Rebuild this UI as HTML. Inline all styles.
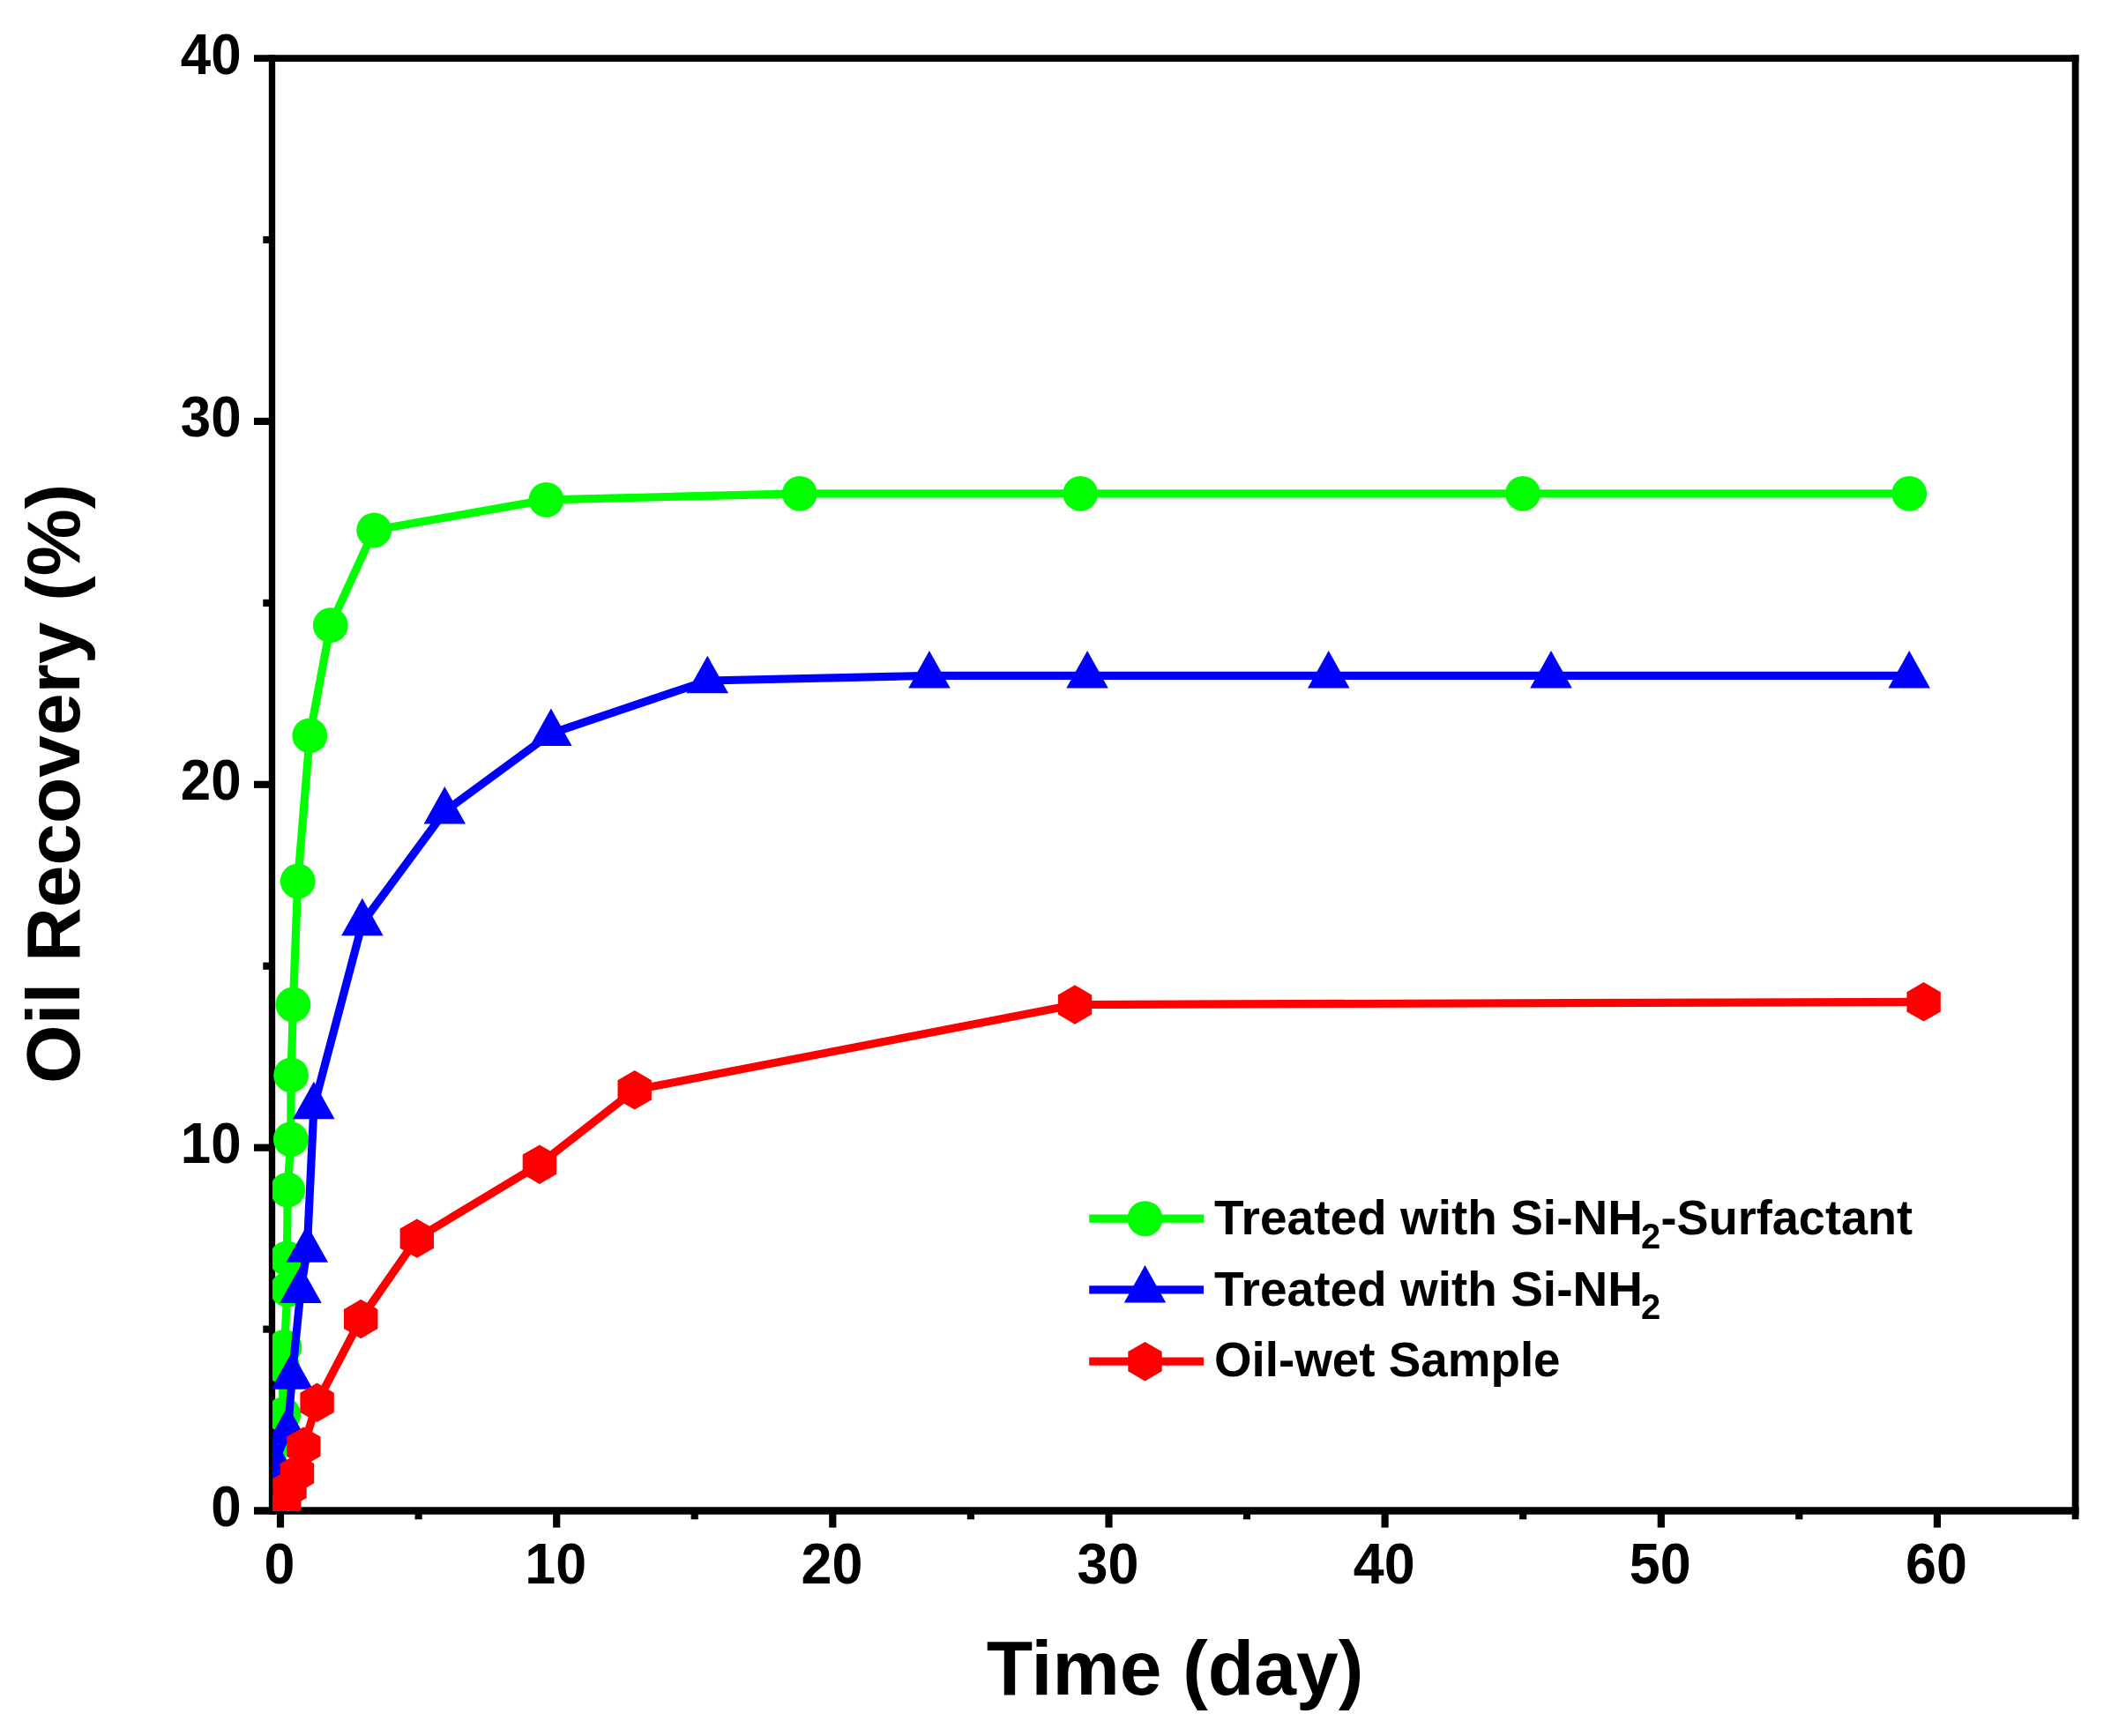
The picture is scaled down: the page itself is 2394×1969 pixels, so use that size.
<!DOCTYPE html><html><head><meta charset="utf-8"><title>Oil Recovery</title>
<style>html,body{margin:0;padding:0;background:#fff}svg{display:block;filter:blur(0.7px)}text{font-family:"Liberation Sans",Arial,Helvetica,sans-serif;font-weight:bold;fill:#000}</style></head><body>
<svg width="2394" height="1969" viewBox="0 0 2394 1969">
<rect width="2394" height="1969" fill="#fff"/>
<g stroke="#000" fill="none" stroke-linecap="butt">
<line x1="308.5" y1="62.199999999999996" x2="308.5" y2="1717.7" stroke-width="7.3"/>
<line x1="2353.6" y1="62.199999999999996" x2="2353.6" y2="1723.3" stroke-width="7.8"/>
<line x1="288" y1="66.1" x2="2357.5" y2="66.1" stroke-width="7.9"/>
<line x1="288" y1="1713.5" x2="2357.5" y2="1713.5" stroke-width="8.6"/>
</g>
<g stroke="#000" stroke-width="8.2" fill="none" stroke-linecap="butt">
<line x1="298.3" y1="1507.6" x2="308.5" y2="1507.6"/>
<line x1="288" y1="1301.7" x2="308.5" y2="1301.7"/>
<line x1="298.3" y1="1095.7" x2="308.5" y2="1095.7"/>
<line x1="288" y1="889.8" x2="308.5" y2="889.8"/>
<line x1="298.3" y1="683.9" x2="308.5" y2="683.9"/>
<line x1="288" y1="477.9" x2="308.5" y2="477.9"/>
<line x1="298.3" y1="272.0" x2="308.5" y2="272.0"/>
<line x1="318.0" y1="1713.5" x2="318.0" y2="1732.6"/>
<line x1="474.6" y1="1713.5" x2="474.6" y2="1723.3"/>
<line x1="631.2" y1="1713.5" x2="631.2" y2="1732.6"/>
<line x1="787.7" y1="1713.5" x2="787.7" y2="1723.3"/>
<line x1="944.3" y1="1713.5" x2="944.3" y2="1732.6"/>
<line x1="1100.9" y1="1713.5" x2="1100.9" y2="1723.3"/>
<line x1="1257.5" y1="1713.5" x2="1257.5" y2="1732.6"/>
<line x1="1414.0" y1="1713.5" x2="1414.0" y2="1723.3"/>
<line x1="1570.6" y1="1713.5" x2="1570.6" y2="1732.6"/>
<line x1="1727.2" y1="1713.5" x2="1727.2" y2="1723.3"/>
<line x1="1883.8" y1="1713.5" x2="1883.8" y2="1732.6"/>
<line x1="2040.3" y1="1713.5" x2="2040.3" y2="1723.3"/>
<line x1="2196.9" y1="1713.5" x2="2196.9" y2="1732.6"/>
</g>
<text transform="translate(273.6,1730.9) scale(0.955,1)" font-size="64.8" text-anchor="end">0</text>
<text transform="translate(273.6,1319.1) scale(0.955,1)" font-size="64.8" text-anchor="end">10</text>
<text transform="translate(273.6,907.2) scale(0.955,1)" font-size="64.8" text-anchor="end">20</text>
<text transform="translate(273.6,495.3) scale(0.955,1)" font-size="64.8" text-anchor="end">30</text>
<text transform="translate(273.6,83.5) scale(0.955,1)" font-size="64.8" text-anchor="end">40</text>
<text transform="translate(317.1,1796) scale(0.97,1)" font-size="64.8" text-anchor="middle">0</text>
<text transform="translate(630.3,1796) scale(0.97,1)" font-size="64.8" text-anchor="middle">10</text>
<text transform="translate(943.4,1796) scale(0.97,1)" font-size="64.8" text-anchor="middle">20</text>
<text transform="translate(1256.5,1796) scale(0.97,1)" font-size="64.8" text-anchor="middle">30</text>
<text transform="translate(1569.7,1796) scale(0.97,1)" font-size="64.8" text-anchor="middle">40</text>
<text transform="translate(1882.8,1796) scale(0.97,1)" font-size="64.8" text-anchor="middle">50</text>
<text transform="translate(2196.0,1796) scale(0.97,1)" font-size="64.8" text-anchor="middle">60</text>
<text transform="translate(1332.5,1922) scale(0.981,1)" font-size="87.5" text-anchor="middle">Time (day)</text>
<text transform="translate(89.8,888.75) rotate(-90)" font-size="85.6" text-anchor="middle">Oil Recovery (%)</text>
<defs><clipPath id="c"><rect x="309.0" y="66.1" width="2044.6" height="1647.6000000000001"/></clipPath></defs>
<g clip-path="url(#c)">
<polyline fill="none" stroke="#00ff00" stroke-width="9.2" stroke-linejoin="round" stroke-linecap="round" points="318.5,1713.5 321.3,1604.3 320.0,1549.0 322.5,1528.0 326.0,1462.6 325.5,1427.4 326.2,1349.6 329.8,1292.1 330.1,1219.3 332.4,1139.5 337.7,999.5 351.3,834.3 374.8,709.2 424.2,601.3 619.5,566.9 906.9,559.8 1225.2,559.8 1727.0,559.8 2165.2,559.8"/>
<circle cx="318.5" cy="1713.5" r="19.9" fill="#00ff00"/>
<circle cx="321.3" cy="1604.3" r="19.9" fill="#00ff00"/>
<circle cx="320.0" cy="1549.0" r="19.9" fill="#00ff00"/>
<circle cx="322.5" cy="1528.0" r="19.9" fill="#00ff00"/>
<circle cx="326.0" cy="1462.6" r="19.9" fill="#00ff00"/>
<circle cx="325.5" cy="1427.4" r="19.9" fill="#00ff00"/>
<circle cx="326.2" cy="1349.6" r="19.9" fill="#00ff00"/>
<circle cx="329.8" cy="1292.1" r="19.9" fill="#00ff00"/>
<circle cx="330.1" cy="1219.3" r="19.9" fill="#00ff00"/>
<circle cx="332.4" cy="1139.5" r="19.9" fill="#00ff00"/>
<circle cx="337.7" cy="999.5" r="19.9" fill="#00ff00"/>
<circle cx="351.3" cy="834.3" r="19.9" fill="#00ff00"/>
<circle cx="374.8" cy="709.2" r="19.9" fill="#00ff00"/>
<circle cx="424.2" cy="601.3" r="19.9" fill="#00ff00"/>
<circle cx="619.5" cy="566.9" r="19.9" fill="#00ff00"/>
<circle cx="906.9" cy="559.8" r="19.9" fill="#00ff00"/>
<circle cx="1225.2" cy="559.8" r="19.9" fill="#00ff00"/>
<circle cx="1727.0" cy="559.8" r="19.9" fill="#00ff00"/>
<circle cx="2165.2" cy="559.8" r="19.9" fill="#00ff00"/>
<polyline fill="none" stroke="#0000ff" stroke-width="9.2" stroke-linejoin="round" stroke-linecap="round" points="318.2,1713.5 311.0,1659.0 326.5,1623.0 331.2,1561.6 341.0,1463.8 348.3,1417.5 355.9,1255.1 410.9,1047.1 504.3,920.4 624.9,831.9 802.3,772.0 1053.9,766.3 1233.1,766.3 1506.7,766.3 1759.0,766.3 2165.2,766.3"/>
<polygon fill="#0000ff" points="318.2,1685.2 294.4,1727.7 341.9,1727.7"/>
<polygon fill="#0000ff" points="311.0,1630.7 287.2,1673.2 334.8,1673.2"/>
<polygon fill="#0000ff" points="326.5,1594.7 302.8,1637.2 350.2,1637.2"/>
<polygon fill="#0000ff" points="331.2,1533.3 307.4,1575.8 354.9,1575.8"/>
<polygon fill="#0000ff" points="341.0,1435.5 317.2,1478.0 364.8,1478.0"/>
<polygon fill="#0000ff" points="348.3,1389.2 324.6,1431.7 372.1,1431.7"/>
<polygon fill="#0000ff" points="355.9,1226.8 332.1,1269.3 379.6,1269.3"/>
<polygon fill="#0000ff" points="410.9,1018.8 387.1,1061.3 434.6,1061.3"/>
<polygon fill="#0000ff" points="504.3,892.1 480.6,934.6 528.0,934.6"/>
<polygon fill="#0000ff" points="624.9,803.6 601.1,846.1 648.6,846.1"/>
<polygon fill="#0000ff" points="802.3,743.7 778.5,786.2 826.0,786.2"/>
<polygon fill="#0000ff" points="1053.9,738.0 1030.2,780.5 1077.7,780.5"/>
<polygon fill="#0000ff" points="1233.1,738.0 1209.3,780.5 1256.8,780.5"/>
<polygon fill="#0000ff" points="1506.7,738.0 1483.0,780.5 1530.5,780.5"/>
<polygon fill="#0000ff" points="1759.0,738.0 1735.2,780.5 1782.8,780.5"/>
<polygon fill="#0000ff" points="2165.2,738.0 2141.4,780.5 2188.9,780.5"/>
<polyline fill="none" stroke="#ff0000" stroke-width="9.2" stroke-linejoin="round" stroke-linecap="round" points="318.2,1713.5 322.3,1713.5 328.5,1688.0 337.0,1671.2 344.3,1640.6 359.6,1590.8 409.2,1496.0 472.8,1404.6 611.9,1320.7 719.7,1236.3 1219.0,1139.5 2181.6,1136.3"/>
<polygon fill="#ff0000" points="318.2,1691.3 299.0,1702.4 299.0,1724.6 318.2,1735.7 337.4,1724.6 337.4,1702.4"/>
<polygon fill="#ff0000" points="322.3,1691.3 303.1,1702.4 303.1,1724.6 322.3,1735.7 341.5,1724.6 341.5,1702.4"/>
<polygon fill="#ff0000" points="328.5,1665.8 309.3,1676.9 309.3,1699.1 328.5,1710.2 347.7,1699.1 347.7,1676.9"/>
<polygon fill="#ff0000" points="337.0,1649.0 317.8,1660.1 317.8,1682.3 337.0,1693.4 356.2,1682.3 356.2,1660.1"/>
<polygon fill="#ff0000" points="344.3,1618.4 325.1,1629.5 325.1,1651.7 344.3,1662.8 363.5,1651.7 363.5,1629.5"/>
<polygon fill="#ff0000" points="359.6,1568.6 340.4,1579.7 340.4,1601.9 359.6,1613.0 378.8,1601.9 378.8,1579.7"/>
<polygon fill="#ff0000" points="409.2,1473.8 390.0,1484.9 390.0,1507.1 409.2,1518.2 428.4,1507.1 428.4,1484.9"/>
<polygon fill="#ff0000" points="472.8,1382.4 453.6,1393.5 453.6,1415.7 472.8,1426.8 492.0,1415.7 492.0,1393.5"/>
<polygon fill="#ff0000" points="611.9,1298.5 592.7,1309.6 592.7,1331.8 611.9,1342.9 631.1,1331.8 631.1,1309.6"/>
<polygon fill="#ff0000" points="719.7,1214.1 700.5,1225.2 700.5,1247.4 719.7,1258.5 738.9,1247.4 738.9,1225.2"/>
<polygon fill="#ff0000" points="1219.0,1117.3 1199.8,1128.4 1199.8,1150.6 1219.0,1161.7 1238.2,1150.6 1238.2,1128.4"/>
<polygon fill="#ff0000" points="2181.6,1114.1 2162.4,1125.2 2162.4,1147.4 2181.6,1158.5 2200.8,1147.4 2200.8,1125.2"/>
</g>
<line x1="1235.2" y1="1382.2" x2="1365" y2="1382.2" stroke="#00ff00" stroke-width="9.2" stroke-linecap="butt"/><circle cx="1298.5" cy="1382.2" r="20" fill="#00ff00"/>
<line x1="1235.2" y1="1462.8" x2="1365" y2="1462.8" stroke="#0000ff" stroke-width="9.2" stroke-linecap="butt"/><polygon fill="#0000ff" points="1298.5,1435.0 1274.8,1477.5 1322.2,1477.5"/>
<line x1="1235.2" y1="1544.2" x2="1365" y2="1544.2" stroke="#ff0000" stroke-width="9.2" stroke-linecap="butt"/><polygon fill="#ff0000" points="1298.5,1522.0 1279.3,1533.1 1279.3,1555.3 1298.5,1566.4 1317.7,1555.3 1317.7,1533.1"/>
<text x="1377" y="1400" font-size="55">Treated with Si-NH</text>
<text x="1861" y="1415.6" font-size="40">2</text>
<text transform="translate(1883.6,1400) scale(0.9835,1)" font-size="55">-Surfactant</text>
<text x="1377" y="1480.5" font-size="55">Treated with Si-NH</text>
<text x="1861" y="1496.1" font-size="40">2</text>
<text transform="translate(1377,1561) scale(0.996,1)" font-size="55">Oil-wet Sample</text>
</svg></body></html>
